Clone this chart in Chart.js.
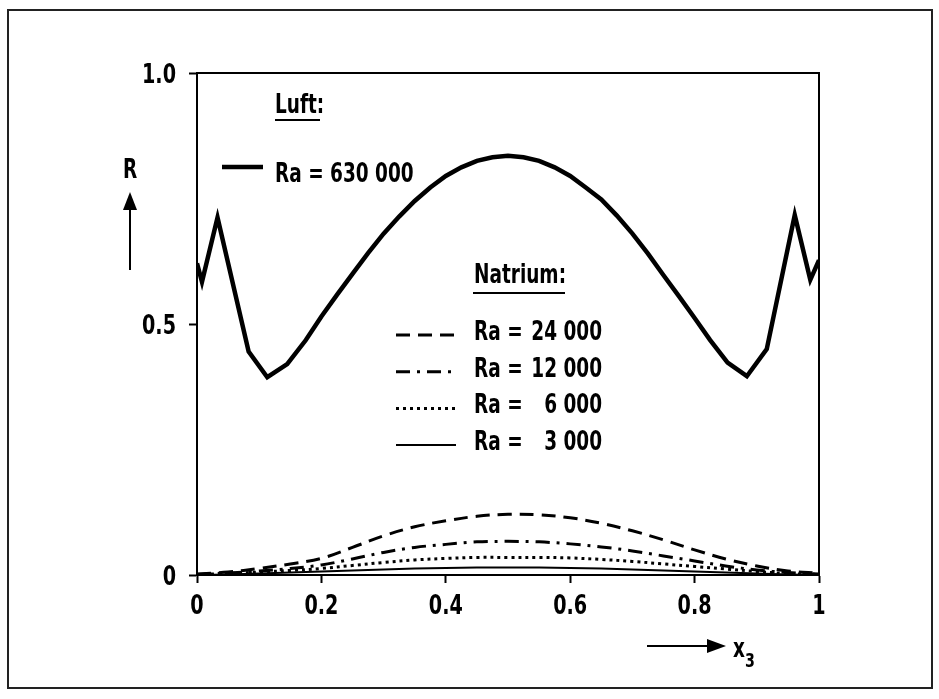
<!DOCTYPE html>
<html>
<head>
<meta charset="utf-8">
<script src="https://cdn.jsdelivr.net/npm/chart.js@4.4.1/dist/chart.umd.min.js"></script>
<style>
  body { margin: 0; background: #fff; }
  canvas { display: block; }
</style>
</head>
<body>
<canvas id="myChart" width="939" height="699"></canvas>
<script>
// Luft, Ra = 630 000
var luftX = [0, 0.008, 0.033, 0.083, 0.113, 0.145, 0.175, 0.2, 0.225, 0.25, 0.275, 0.3, 0.325, 0.35,
             0.375, 0.4, 0.425, 0.45, 0.475, 0.5, 0.525, 0.55, 0.575, 0.6, 0.625, 0.65, 0.675,
             0.7, 0.725, 0.75, 0.775, 0.8, 0.825, 0.853, 0.884, 0.916, 0.961, 0.986, 1];
var luftY = [0.621, 0.584, 0.712, 0.445, 0.394, 0.42, 0.468, 0.515, 0.558, 0.6, 0.641, 0.68, 0.714, 0.745,
             0.772, 0.795, 0.812, 0.825, 0.832, 0.835, 0.832, 0.825, 0.812, 0.795, 0.772, 0.748, 0.716,
             0.68, 0.64, 0.597, 0.555, 0.512, 0.468, 0.423, 0.396, 0.45, 0.717, 0.588, 0.627];

// Natrium
var natX = [0, 0.05, 0.1, 0.15, 0.2, 0.25, 0.3, 0.35, 0.4, 0.45, 0.5,
            0.55, 0.6, 0.65, 0.7, 0.75, 0.8, 0.85, 0.9, 0.95, 1];
var ra24000 = [0.002, 0.006, 0.013, 0.022, 0.033, 0.055, 0.078, 0.096, 0.108, 0.117, 0.121,
               0.12, 0.114, 0.103, 0.088, 0.07, 0.05, 0.032, 0.018, 0.008, 0.004];
var ra12000 = [0.001, 0.004, 0.008, 0.013, 0.02, 0.032, 0.045, 0.055, 0.061, 0.066, 0.067,
               0.066, 0.062, 0.056, 0.048, 0.038, 0.028, 0.018, 0.01, 0.005, 0.002];
var ra6000 = [0.001, 0.003, 0.006, 0.009, 0.013, 0.019, 0.025, 0.03, 0.033, 0.035, 0.035,
              0.035, 0.034, 0.031, 0.027, 0.022, 0.017, 0.012, 0.007, 0.003, 0.001];
var ra3000 = [0, 0.001, 0.003, 0.005, 0.007, 0.009, 0.011, 0.013, 0.014, 0.015, 0.015,
              0.015, 0.014, 0.013, 0.011, 0.009, 0.007, 0.005, 0.003, 0.001, 0];

var xTickVals = [0, 0.2, 0.4, 0.6, 0.8, 1];
var xTickLabels = ['0', '0.2', '0.4', '0.6', '0.8', '1'];
var yTickVals = [0, 0.5, 1];
var yTickLabels = ['0', '0.5', '1.0'];

var natLabels = ['24 000', '12 000', '6 000', '3 000'];

var fontFam = '"Liberation Sans Narrow", "DejaVu Sans Condensed", "Roboto", sans-serif';
var escalaX = 0.79; // the original lettering is very narrow

function pontos(xs, ys) {
    var lista = [];
    for (var i = 0; i < xs.length; i++) {
        lista.push({ x: xs[i], y: ys[i] });
    }
    return lista;
}

// narrow text: squeeze horizontally
function texto(ctx, s, x, y, align, size) {
    ctx.save();
    ctx.font = 'bold ' + (size || 26) + 'px ' + fontFam;
    ctx.textAlign = align || 'left';
    ctx.textBaseline = 'alphabetic';
    ctx.translate(x, y);
    ctx.scale(escalaX, 1);
    ctx.fillText(s, 0, 0);
    ctx.restore();
}

var estilos = [
    { dash: [14, 8], width: 3 },
    { dash: [14, 7, 3, 7], width: 3 },
    { dash: [3, 4], width: 3 },
    { dash: [], width: 2 }
];
var natSeries = [ra24000, ra12000, ra6000, ra3000];

var datasets = [{
    label: 'Ra = 630 000',
    data: pontos(luftX, luftY),
    borderColor: '#000',
    borderWidth: 4.5,
    borderJoinStyle: 'miter',
    tension: 0
}];
for (var k = 0; k < natSeries.length; k++) {
    datasets.push({
        label: 'Ra = ' + natLabels[k],
        data: pontos(natX, natSeries[k]),
        borderColor: '#000',
        borderWidth: estilos[k].width,
        borderDash: estilos[k].dash,
        tension: 0.35
    });
}

// texts, tick labels, arrows, frame
var extras = {
    id: 'extras',
    afterDraw: function (chart) {
        var ctx = chart.ctx;
        var a = chart.chartArea;
        var sx = chart.scales.x;
        var sy = chart.scales.y;
        ctx.save();

        // box around the plot
        ctx.strokeStyle = '#000';
        ctx.lineWidth = 2;
        ctx.setLineDash([]);
        ctx.strokeRect(a.left, a.top, a.right - a.left, a.bottom - a.top);

        // outer frame
        ctx.strokeStyle = '#222';
        ctx.strokeRect(8, 10, 924, 678);

        ctx.fillStyle = '#000';
        ctx.strokeStyle = '#000';

        // tick labels from the scales
        for (var i = 0; i < xTickVals.length; i++) {
            texto(ctx, xTickLabels[i], sx.getPixelForValue(xTickVals[i]), a.bottom + 39, 'center', 27);
        }
        for (var j = 0; j < yTickVals.length; j++) {
            texto(ctx, yTickLabels[j], a.left - 21, sy.getPixelForValue(yTickVals[j]) + 10, 'right', 27);
        }

        // Luft
        texto(ctx, 'Luft:', 275, 113);
        ctx.fillRect(275, 119, 45, 2);
        ctx.lineWidth = 4.5;
        ctx.beginPath();
        ctx.moveTo(222, 167);
        ctx.lineTo(263, 167);
        ctx.stroke();
        texto(ctx, 'Ra = 630 000', 275, 182);

        // Natrium
        texto(ctx, 'Natrium:', 474, 283);
        ctx.fillRect(473, 292, 92, 2);
        for (var n = 0; n < natLabels.length; n++) {
            var base = 340 + n * 36.7;
            ctx.lineWidth = estilos[n].width;
            ctx.setLineDash(estilos[n].dash);
            ctx.beginPath();
            ctx.moveTo(396, base - 5);
            ctx.lineTo(456, base - 5);
            ctx.stroke();
            ctx.setLineDash([]);
            texto(ctx, 'Ra =', 474, base, 'left');
            texto(ctx, natLabels[n], 602, base, 'right');
        }

        // R with arrow
        texto(ctx, 'R', 130, 178, 'center');
        ctx.lineWidth = 2;
        ctx.beginPath();
        ctx.moveTo(130, 270);
        ctx.lineTo(130, 206);
        ctx.stroke();
        ctx.beginPath();
        ctx.moveTo(130, 192);
        ctx.lineTo(123, 210);
        ctx.lineTo(137, 210);
        ctx.closePath();
        ctx.fill();

        // x3 with arrow
        ctx.beginPath();
        ctx.moveTo(647, 646);
        ctx.lineTo(712, 646);
        ctx.stroke();
        ctx.beginPath();
        ctx.moveTo(726, 646);
        ctx.lineTo(707, 639);
        ctx.lineTo(707, 653);
        ctx.closePath();
        ctx.fill();
        texto(ctx, 'x', 733, 657, 'left', 26);
        texto(ctx, '3', 745, 667, 'left', 20);

        ctx.restore();
    }
};

var ctx = document.getElementById('myChart');
var grafico = new Chart(ctx, {
    type: 'line',
    data: { datasets: datasets },
    options: {
        responsive: false,
        animation: false,
        devicePixelRatio: 1,
        layout: { padding: { left: 0, top: 73, right: 120, bottom: 0 } },
        elements: { point: { radius: 0 } },
        plugins: { legend: { display: false }, tooltip: { enabled: false } },
        scales: {
            x: {
                type: 'linear',
                min: 0,
                max: 1,
                afterBuildTicks: function (scale) {
                    scale.ticks = xTickVals.map(function (v) { return { value: v }; });
                },
                afterFit: function (scale) { scale.height = 124; },
                ticks: { display: false },
                grid: { drawOnChartArea: false, drawTicks: true, tickLength: 8, tickWidth: 2, tickColor: '#000' },
                border: { display: true, color: '#000', width: 2 }
            },
            y: {
                type: 'linear',
                min: 0,
                max: 1,
                afterBuildTicks: function (scale) {
                    scale.ticks = yTickVals.map(function (v) { return { value: v }; });
                },
                afterFit: function (scale) { scale.width = 197; },
                ticks: { display: false },
                grid: { drawOnChartArea: false, drawTicks: true, tickLength: 8, tickWidth: 2, tickColor: '#000' },
                border: { display: true, color: '#000', width: 2 }
            }
        }
    },
    plugins: [extras]
});
</script>
</body>
</html>
